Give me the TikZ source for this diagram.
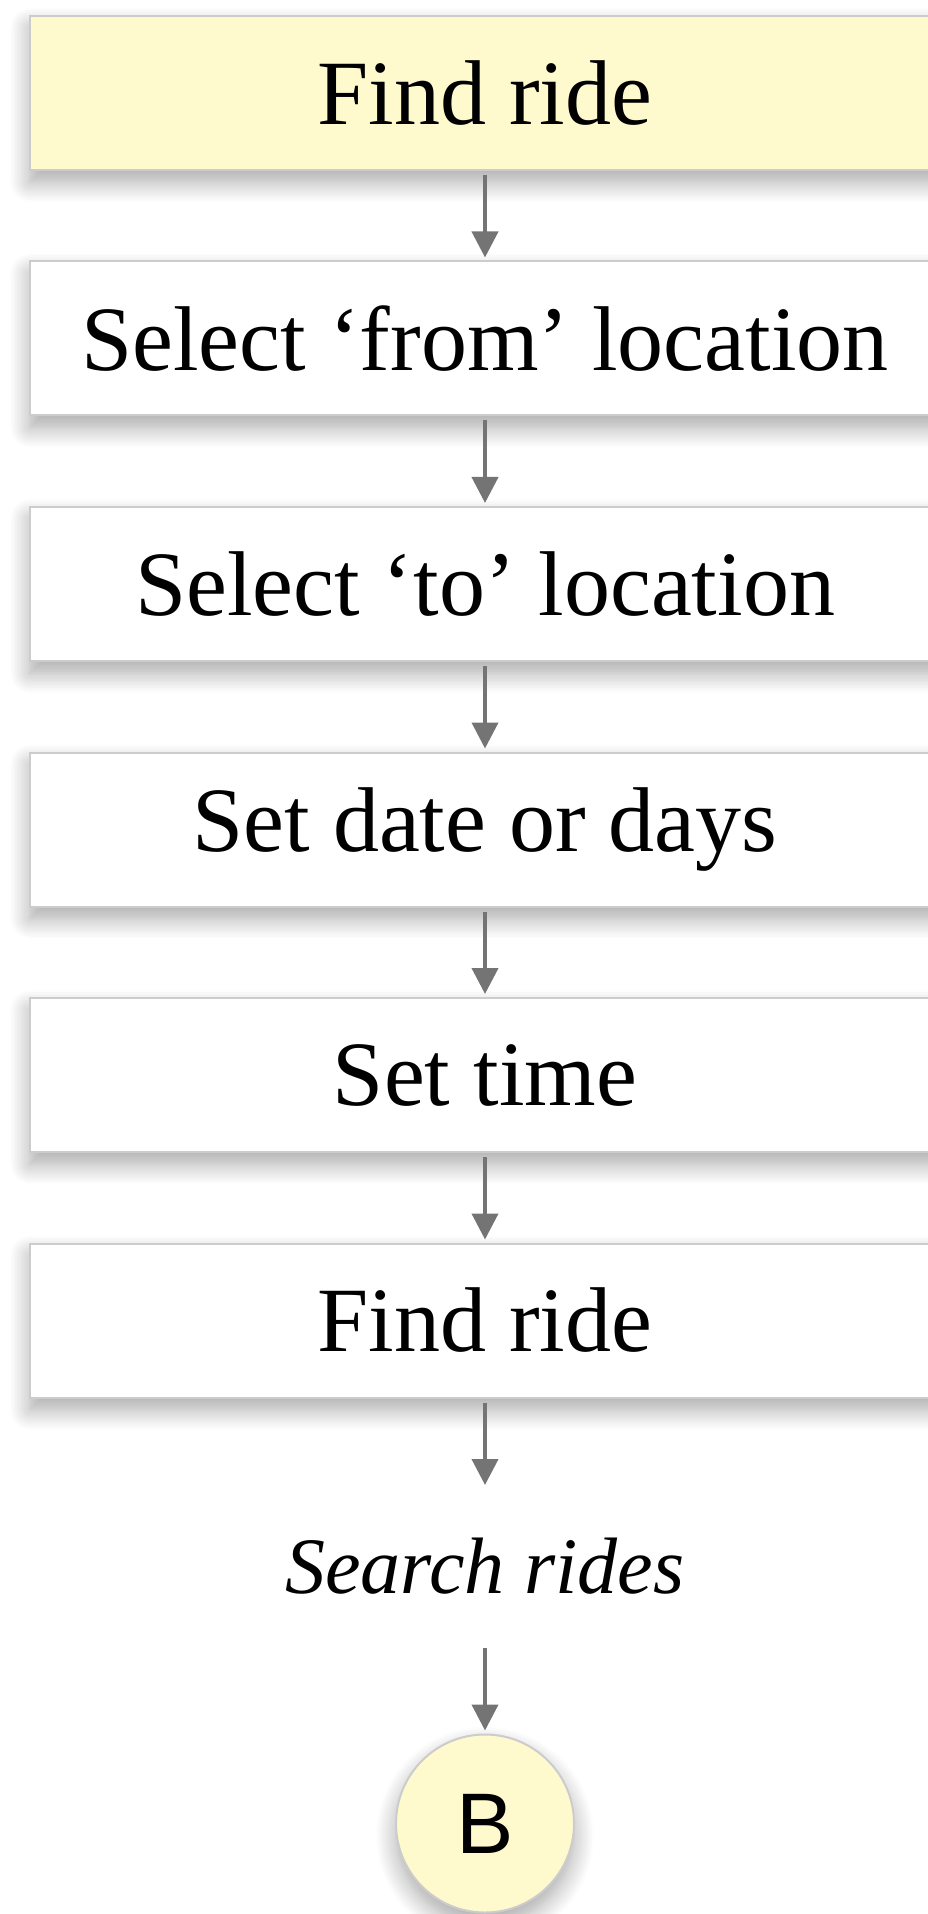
\documentclass[tikz,border=0pt]{standalone}
\usepackage{fontspec}
\setmainfont{Liberation Serif}
\setsansfont{Liberation Sans}
\usepackage{xcolor}
\definecolor{noteyellow}{HTML}{FFFACD}
\definecolor{edgegray}{HTML}{CCCCCC}
\definecolor{arrowgray}{HTML}{747474}
\usetikzlibrary{positioning,arrows.meta,shadows.blur}

\begin{document}
\begin{tikzpicture}[x=0.5pt, y=-0.5pt, node distance=44.75pt,
    softshadow/.style={blur shadow={shadow xshift=0pt, shadow yshift=-6pt, shadow blur radius=10pt, shadow blur steps=12, shadow opacity=35}},
    stepbox/.style={draw=edgegray, line width=1pt, fill=white, minimum width=455pt, minimum height=77pt,
        font=\fontsize{46}{50}\selectfont, softshadow},
    flow/.style={arrowgray, line width=2pt, -{Triangle[width=13pt,length=13pt]}, shorten <=2pt, shorten >=1.5pt}]
    \useasboundingbox (0,0) rectangle (927,1914);
    \node[stepbox,fill=noteyellow] (start) at (485,93) {Find ride};
    \node[stepbox,below=of start] (from) {Select ‘from’ location};
    \node[stepbox,below=of from] (to) {Select ‘to’ location};
    \node[stepbox,below=of to] (date) {Set date or days};
    \node[stepbox,below=of date] (time) {Set time};
    \node[stepbox,below=of time] (find) {Find ride};
    \node[line width=1pt,minimum height=77pt,font=\itshape\fontsize{40}{44}\selectfont,below=of find] (search) {Search rides};
    \node[circle,draw=edgegray,line width=1pt,fill=noteyellow,minimum size=89pt,font=\sffamily\fontsize{43}{47}\selectfont,softshadow,below=of search] (exitb) {B};
    \draw[flow] (start) -- (from);
    \draw[flow] (from) -- (to);
    \draw[flow] (to) -- (date);
    \draw[flow] (date) -- (time);
    \draw[flow] (time) -- (find);
    \draw[flow] (find) -- (search);
    \draw[flow] (search) -- (exitb);
\end{tikzpicture}
\end{document}
